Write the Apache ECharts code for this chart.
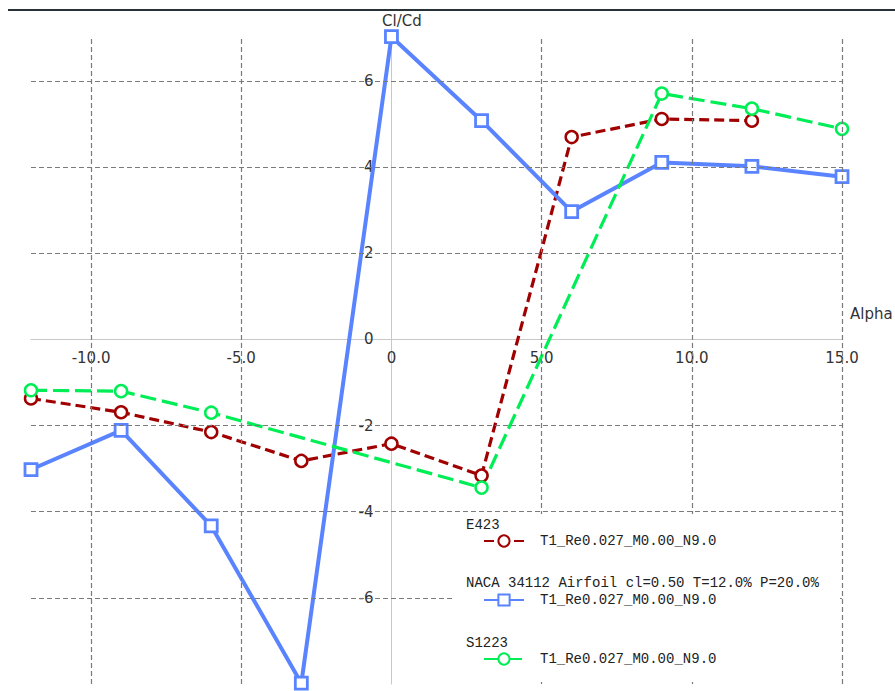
<!DOCTYPE html>
<html>
<head>
<meta charset="utf-8">
<script src="https://cdn.jsdelivr.net/npm/echarts@6/dist/echarts.min.js"></script>
<style>
html,body{margin:0;padding:0;background:#fff;}
#c{width:895px;height:691px;}
</style>
</head>
<body>
<div id="c"></div>
<script>
// ---- data ----
const alpha = [-12, -9, -6, -3, 0, 3, 6, 9, 12, 15];
const e423 = [-1.37, -1.69, -2.15, -2.82, -2.42, -3.16, 4.70, 5.12, 5.08, null];
const naca = [-3.02, -2.11, -4.33, -7.98, 7.03, 5.08, 2.97, 4.11, 4.02, 3.78];
const s1223 = [-1.18, -1.20, -1.70, null, null, -3.44, null, 5.71, 5.36, 4.89];
const xGridTicks = [-10, -5, 5, 10, 15];
const yGridTicks = [-6, -4, -2, 2, 4, 6];
const xLabelTicks = [-10, -5, 0, 5, 10, 15];
const yLabelTicks = [-6, -4, -2, 0, 2, 4, 6];
const seriesNames = ['E423', 'NACA 34112 Airfoil cl=0.50 T=12.0% P=20.0%', 'S1223'];
const runName = 'T1_Re0.027_M0.00_N9.0';

const xMin = -12, xMax = 15, yMin = -8, yMax = 7;
const grid = { left: 31, right: 53, top: 38, bottom: 7 };
const W = 895, H = 691;
const plotW = W - grid.left - grid.right, plotH = H - grid.top - grid.bottom;
// offsets that bring each axis onto the other axis's zero
const xAxisOffset = -plotH * (0 - yMin) / (yMax - yMin);
const yAxisOffset = -plotW * (0 - xMin) / (xMax - xMin);

function pairs(ys) {
  const out = [];
  ys.forEach((y, i) => { if (y !== null) out.push([alpha[i], y]); });
  return out;
}

const gridColor = '#7a7a7a';
const gridLines = {
  silent: true,
  symbol: ['none', 'none'],
  animation: false,
  label: { show: false },
  emphasis: { disabled: true },
  lineStyle: { color: gridColor, type: [5, 3], width: 1.2 },
  data: xGridTicks.map(v => ({ xAxis: v })).concat(yGridTicks.map(v => ({ yAxis: v })))
};

const chart = echarts.init(document.getElementById('c'), null, { renderer: 'svg' });
const axisFont = { fontFamily: 'DejaVu Sans', fontSize: 15, color: '#333' };
const monoFont = 'Liberation Mono';
const headFont = '14px "Liberation Mono"';

chart.setOption({
  animation: false,
  backgroundColor: '#fff',
  grid: Object.assign({ containLabel: false, outerBoundsMode: 'none' }, grid),
  xAxis: {
    type: 'value', min: xMin, max: xMax, interval: 1,
    position: 'bottom', offset: xAxisOffset,
    axisLine: { onZero: false, lineStyle: { color: '#c8c8c8', width: 1 } },
    axisTick: { show: false },
    splitLine: { show: false },
    axisLabel: Object.assign({
      margin: 11, hideOverlap: false,
      formatter: v => xLabelTicks.indexOf(v) >= 0 ? (v === 0 ? '0' : v.toFixed(1)) : ''
    }, axisFont)
  },
  yAxis: {
    type: 'value', min: yMin, max: yMax, interval: 1,
    position: 'left', offset: yAxisOffset,
    axisLine: { onZero: false, lineStyle: { color: '#c8c8c8', width: 1 } },
    axisTick: { show: false },
    splitLine: { show: false },
    axisLabel: Object.assign({
      margin: 18, hideOverlap: false,
      formatter: v => yLabelTicks.indexOf(v) >= 0 ? String(v) : ''
    }, axisFont)
  },
  legend: {
    orient: 'vertical',
    left: 478, top: 529,
    z: 10,
    itemWidth: 40, itemHeight: 14, itemGap: 45,
    data: seriesNames,
    formatter: () => runName,
    textStyle: { fontFamily: monoFont, fontSize: 14, lineHeight: 14, color: '#222', padding: [0, 0, 0, 11] }
  },
  graphic: [
    { type: 'line', shape: { x1: 8, y1: 10, x2: 895, y2: 10 }, style: { stroke: '#263238', lineWidth: 2 }, silent: true },
    // white legend panel covering the grid
    { type: 'rect', z: 8, silent: true, shape: { x: 455, y: 514, width: 385, height: 168 }, style: { fill: '#ffffff' } },
    { type: 'text', left: 382, top: 13, style: { text: 'Cl/Cd', font: '15px "DejaVu Sans"', fill: '#333' } },
    { type: 'text', left: 850, top: 306, style: { text: 'Alpha', font: '15px "DejaVu Sans"', fill: '#333' } },
    { type: 'text', z: 20, left: 466, top: 518, style: { text: seriesNames[0], font: headFont, lineHeight: 14, fill: '#222' } },
    { type: 'text', z: 20, left: 466, top: 576, style: { text: seriesNames[1], font: headFont, lineHeight: 14, fill: '#222' } },
    { type: 'text', z: 20, left: 466, top: 636, style: { text: seriesNames[2], font: headFont, lineHeight: 14, fill: '#222' } }
  ],
  series: [
    {
      name: seriesNames[0], type: 'line', data: pairs(e423), clip: false,
      symbol: 'circle', symbolSize: 12,
      lineStyle: { color: '#a00000', width: 3.2, type: [10, 5] },
      itemStyle: { color: '#ffffff', borderColor: '#a00000', borderWidth: 2.5 },
      markLine: gridLines, z: 3
    },
    {
      name: seriesNames[1], type: 'line', data: pairs(naca), clip: false,
      symbol: 'rect', symbolSize: 12,
      lineStyle: { color: '#5a84ff', width: 4, type: 'solid' },
      itemStyle: { color: '#ffffff', borderColor: '#5a84ff', borderWidth: 2.8 },
      z: 3
    },
    {
      name: seriesNames[2], type: 'line', data: pairs(s1223), clip: false,
      symbol: 'circle', symbolSize: 12, connectNulls: true,
      lineStyle: { color: '#00ee55', width: 3.2, type: [16, 6] },
      itemStyle: { color: '#ffffff', borderColor: '#00ee55', borderWidth: 2.5 },
      z: 3
    }
  ]
});
</script>
</body>
</html>
